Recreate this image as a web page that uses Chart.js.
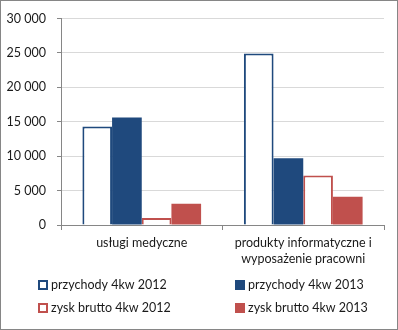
<!DOCTYPE html>
<html>
<head>
<meta charset="utf-8">
<script src="https://cdn.jsdelivr.net/npm/chart.js@4"></script>
<style>
  html, body { margin: 0; padding: 0; background: #fff; }
  #wrap { width: 398px; height: 330px; box-sizing: border-box; border: 1px solid #868686; position: relative; }
  #wrap canvas { position: absolute; left: -1px; top: -1px; }
</style>
</head>
<body>
<div id="wrap"><canvas id="myChart" width="398" height="330"></canvas></div>
<script>
// dane
const categories = [['usługi medyczne'], ['produkty informatyczne i', 'wyposażenie pracowni']];
const seriesNames = ['przychody 4kw 2012', 'przychody 4kw 2013', 'zysk brutto 4kw 2012', 'zysk brutto 4kw 2013'];
const przychody2012 = [14300, 24900];
const przychody2013 = [15600, 9700];
const zysk2012 = [1000, 7200];
const zysk2013 = [3100, 4100];
const yTicks = [0, 5000, 10000, 15000, 20000, 25000, 30000];

const blue = '#1F497D';
const red = '#C0504D';
const axisGray = '#868686';
const fontFamily = 'Lato, "Open Sans", sans-serif';

Chart.defaults.font.family = fontFamily;
Chart.defaults.font.size = 12;
Chart.defaults.color = '#1a1a1a';

function fmt(v) {
  return String(v).replace(/\B(?=(\d{3})+(?!\d))/g, ' ');
}

// legenda w dwóch kolumnach, jak w Excelu
const gridLegend = {
  id: 'gridLegend',
  afterDraw(chart) {
    const c = chart.ctx;
    const cols = [38, 235];
    const rows = [285, 308];
    c.save();
    c.font = '12.5px ' + fontFamily;
    c.textBaseline = 'middle';
    chart.data.datasets.forEach(function (ds, i) {
      const x = cols[i % 2];
      const y = rows[Math.floor(i / 2)];
      if (ds.backgroundColor === '#ffffff') {
        c.fillStyle = '#ffffff';
        c.fillRect(x, y - 5, 10, 10);
        c.strokeStyle = ds.borderColor;
        c.lineWidth = 2;
        c.strokeRect(x + 1, y - 4, 8, 8);
      } else {
        c.fillStyle = ds.backgroundColor;
        c.fillRect(x, y - 5, 10, 10);
      }
      c.fillStyle = '#1a1a1a';
      c.textAlign = 'left';
      c.fillText(ds.label, x + 13, y);
    });
    c.restore();
  }
};

let ctx = document.getElementById('myChart');

new Chart(ctx, {
  type: 'bar',
  data: {
    labels: categories,
    datasets: [
      { label: seriesNames[0], data: przychody2012, backgroundColor: '#ffffff', borderColor: blue, borderWidth: 2 },
      { label: seriesNames[1], data: przychody2013, backgroundColor: blue, borderColor: blue, borderWidth: 0 },
      { label: seriesNames[2], data: zysk2012, backgroundColor: '#ffffff', borderColor: red, borderWidth: 2 },
      { label: seriesNames[3], data: zysk2013, backgroundColor: red, borderColor: red, borderWidth: 0 }
    ]
  },
  options: {
    responsive: false,
    animation: false,
    events: [],
    layout: { padding: { left: 0, right: 14, top: 8, bottom: 65 } },
    datasets: {
      bar: { categoryPercentage: 0.735, barPercentage: 1 }
    },
    plugins: {
      legend: { display: false },
      tooltip: { enabled: false }
    },
    scales: {
      x: {
        grid: { drawOnChartArea: false, offset: true, tickLength: 5, tickColor: axisGray },
        border: { color: axisGray },
        ticks: { padding: 5, font: { size: 12.5, lineHeight: 1.3 } },
        afterFit: function (scale) { scale.height = 40; }
      },
      y: {
        min: 0,
        max: 30000,
        afterBuildTicks: function (scale) { scale.ticks = yTicks.map(v => ({ value: v })); },
        grid: { color: '#D9D9D9', tickLength: 4, tickColor: axisGray },
        border: { color: axisGray },
        ticks: { padding: 11, callback: v => fmt(v), font: { size: 12.5 } },
        afterFit: function (scale) { scale.width = 61; }
      }
    }
  },
  plugins: [gridLegend]
});
</script>
</body>
</html>
